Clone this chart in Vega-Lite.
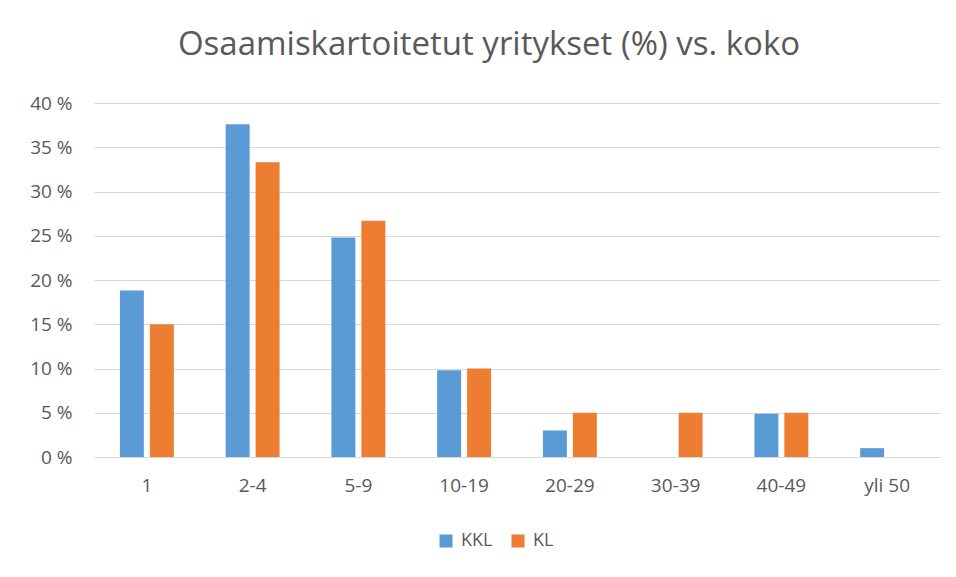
{
  "$schema": "https://vega.github.io/schema/vega-lite/v6.json",
  "autosize": "none",
  "width": 846,
  "height": 354,
  "padding": {"left": 94, "top": 103, "right": 16, "bottom": 120},
  "background": "white",
  "title": {
    "text": "Osaamiskartoitetut yritykset (%) vs. koko",
    "font": "Open Sans",
    "fontSize": 33,
    "fontWeight": "normal",
    "color": "#595959",
    "anchor": "middle",
    "offset": 32,
    "dx": -28
  },
  "data": {
    "values": [
      {"koko": "1", "sarja": "KKL", "arvo": 18.8},
      {"koko": "1", "sarja": "KL", "arvo": 15.0},
      {"koko": "2-4", "sarja": "KKL", "arvo": 37.6},
      {"koko": "2-4", "sarja": "KL", "arvo": 33.3},
      {"koko": "5-9", "sarja": "KKL", "arvo": 24.8},
      {"koko": "5-9", "sarja": "KL", "arvo": 26.7},
      {"koko": "10-19", "sarja": "KKL", "arvo": 9.8},
      {"koko": "10-19", "sarja": "KL", "arvo": 10.0},
      {"koko": "20-29", "sarja": "KKL", "arvo": 3.0},
      {"koko": "20-29", "sarja": "KL", "arvo": 5.0},
      {"koko": "30-39", "sarja": "KKL", "arvo": 0},
      {"koko": "30-39", "sarja": "KL", "arvo": 5.0},
      {"koko": "40-49", "sarja": "KKL", "arvo": 4.9},
      {"koko": "40-49", "sarja": "KL", "arvo": 5.0},
      {"koko": "yli 50", "sarja": "KKL", "arvo": 1.0},
      {"koko": "yli 50", "sarja": "KL", "arvo": 0}
    ]
  },
  "mark": {"type": "bar"},
  "encoding": {
    "x": {
      "field": "koko",
      "type": "nominal",
      "sort": ["1", "2-4", "5-9", "10-19", "20-29", "30-39", "40-49", "yli 50"],
      "scale": {"paddingInner": 0.49, "paddingOuter": 0.245},
      "axis": {
        "title": null,
        "labelAngle": 0,
        "ticks": false,
        "domain": true,
        "domainColor": "#d9d9d9",
        "labelFont": "Open Sans",
        "labelFontSize": 19,
        "labelColor": "#595959",
        "labelPadding": 19
      }
    },
    "xOffset": {
      "field": "sarja",
      "type": "nominal",
      "sort": ["KKL", "KL"],
      "scale": {"paddingInner": 0.2}
    },
    "y": {
      "field": "arvo",
      "type": "quantitative",
      "scale": {"domain": [0, 40], "nice": false},
      "axis": {
        "title": null,
        "values": [0, 5, 10, 15, 20, 25, 30, 35, 40],
        "labelExpr": "datum.value + ' %'",
        "ticks": false,
        "domain": false,
        "gridColor": "#d9d9d9",
        "gridWidth": 1,
        "labelFont": "Open Sans",
        "labelFontSize": 19,
        "labelColor": "#595959",
        "labelPadding": 22
      }
    },
    "color": {
      "field": "sarja",
      "type": "nominal",
      "sort": ["KKL", "KL"],
      "scale": {"domain": ["KKL", "KL"], "range": ["#5B9BD5", "#ED7D31"]},
      "legend": {
        "title": null,
        "orient": "none",
        "direction": "horizontal",
        "legendX": 343,
        "legendY": 429,
        "symbolType": "square",
        "symbolSize": 170,
        "symbolStrokeWidth": 0,
        "labelFont": "Open Sans",
        "labelFontSize": 18,
        "labelColor": "#595959",
        "labelOffset": 6,
        "columnPadding": 16
      }
    }
  },
  "config": {
    "view": {"stroke": null}
  }
}
